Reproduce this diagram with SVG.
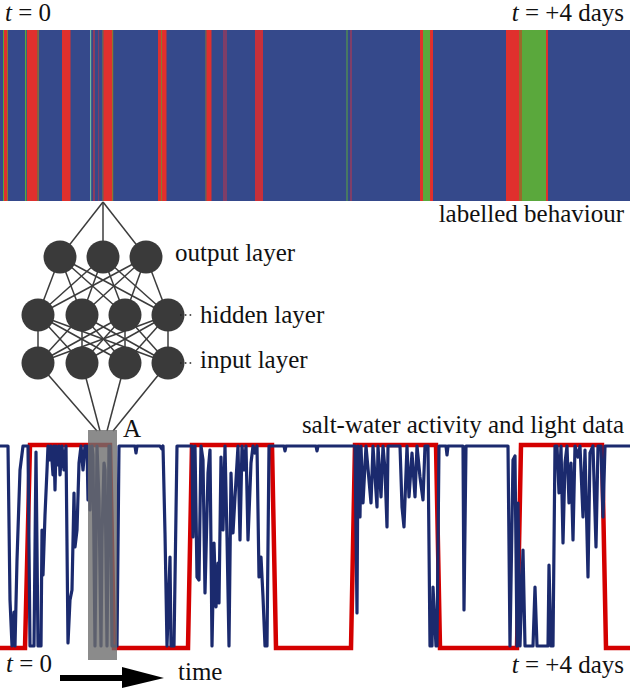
<svg xmlns="http://www.w3.org/2000/svg" width="630" height="689" viewBox="0 0 630 689">
<style>
text{font-family:"Liberation Serif","Times New Roman",serif;font-size:25px;fill:#111}
.it{font-style:italic}
.r{fill:#e0302d}
.g{fill:#5aa83c}
.o{fill:#8a7a30}
.nn{fill:#3a3a3a}
.cn{stroke:#3c3c3c;stroke-width:1.5;fill:none}
.lead{stroke:#222;stroke-width:1.6;stroke-dasharray:1.6 3.2;fill:none}
</style>
<rect width="630" height="689" fill="#fff"/>
<!-- behaviour bar -->
<g id="behaviour-bar">
<rect x="0" y="30" width="630" height="171" fill="#35498b"/>
<rect x="3" y="30" width="1" height="171" class="g"/>
<rect x="4" y="30" width="3" height="171" class="r"/>
<rect x="7" y="30" width="1" height="171" class="o"/>
<rect x="25" y="30" width="1.3" height="171" class="g"/>
<rect x="27" y="30" width="10.5" height="171" class="r"/>
<rect x="37.5" y="30" width="1.3" height="171" class="o"/>
<rect x="62" y="30" width="8.5" height="171" class="r"/>
<rect x="90" y="30" width="1.2" height="171" fill="#6fb8a0"/>
<rect x="93" y="30" width="2" height="171" fill="#b0374f" opacity="0.7"/>
<rect x="98" y="30" width="1.2" height="171" fill="#b0374f" opacity="0.6"/>
<rect x="102.5" y="30" width="1" height="171" class="o"/>
<rect x="103.5" y="30" width="8.5" height="171" class="r"/>
<rect x="112" y="30" width="1.2" height="171" class="o"/>
<rect x="158" y="30" width="8.5" height="171" class="r"/>
<rect x="161" y="30" width="1" height="171" class="o"/>
<rect x="205.5" y="30" width="1" height="171" class="o"/>
<rect x="206.5" y="30" width="5" height="171" class="r"/>
<rect x="223" y="30" width="4" height="171" fill="#a03a5a" opacity="0.7"/>
<rect x="255" y="30" width="8" height="171" fill="#c8303a"/>
<rect x="346.5" y="30" width="1" height="171" class="g"/>
<rect x="350" y="30" width="2" height="171" fill="#a03a5a" opacity="0.7"/>
<rect x="420" y="30" width="3" height="171" class="r"/>
<rect x="423" y="30" width="7" height="171" class="g"/>
<rect x="430" y="30" width="3" height="171" class="r"/>
<rect x="506" y="30" width="13" height="171" class="r"/>
<rect x="519" y="30" width="3" height="171" fill="#9a6a2a"/>
<rect x="522" y="30" width="24" height="171" class="g"/>
<rect x="546" y="30" width="2" height="171" class="r"/>
</g>
<!-- connectors -->
<g id="connectors" class="cn">
<line x1="103" y1="202" x2="60" y2="257"/>
<line x1="103" y1="202" x2="103" y2="257"/>
<line x1="103" y1="202" x2="146" y2="257"/>
<line x1="60" y1="257" x2="38" y2="315"/><line x1="60" y1="257" x2="82" y2="315"/><line x1="60" y1="257" x2="125" y2="315"/><line x1="60" y1="257" x2="168" y2="315"/>
<line x1="103" y1="257" x2="38" y2="315"/><line x1="103" y1="257" x2="82" y2="315"/><line x1="103" y1="257" x2="125" y2="315"/><line x1="103" y1="257" x2="168" y2="315"/>
<line x1="146" y1="257" x2="38" y2="315"/><line x1="146" y1="257" x2="82" y2="315"/><line x1="146" y1="257" x2="125" y2="315"/><line x1="146" y1="257" x2="168" y2="315"/>
<line x1="38" y1="315" x2="38" y2="363"/><line x1="38" y1="315" x2="82" y2="363"/><line x1="38" y1="315" x2="125" y2="363"/><line x1="38" y1="315" x2="168" y2="363"/>
<line x1="82" y1="315" x2="38" y2="363"/><line x1="82" y1="315" x2="82" y2="363"/><line x1="82" y1="315" x2="125" y2="363"/><line x1="82" y1="315" x2="168" y2="363"/>
<line x1="125" y1="315" x2="38" y2="363"/><line x1="125" y1="315" x2="82" y2="363"/><line x1="125" y1="315" x2="125" y2="363"/><line x1="125" y1="315" x2="168" y2="363"/>
<line x1="168" y1="315" x2="38" y2="363"/><line x1="168" y1="315" x2="82" y2="363"/><line x1="168" y1="315" x2="125" y2="363"/><line x1="168" y1="315" x2="168" y2="363"/>
<line x1="38" y1="363" x2="97" y2="431"/>
<line x1="82" y1="363" x2="100" y2="431"/>
<line x1="125" y1="363" x2="107" y2="431"/>
<line x1="168" y1="363" x2="113" y2="431"/>
</g>
<!-- nodes -->
<g id="out1"><circle cx="60" cy="257" r="16.5" class="nn"/></g>
<g id="out2"><circle cx="103" cy="257" r="16.5" class="nn"/></g>
<g id="out3"><circle cx="146" cy="257" r="16.5" class="nn"/></g>
<g id="hid1"><circle cx="38" cy="315" r="16.5" class="nn"/></g>
<g id="hid2"><circle cx="82" cy="315" r="16.5" class="nn"/></g>
<g id="hid3"><circle cx="125" cy="315" r="16.5" class="nn"/></g>
<g id="hid4"><circle cx="168" cy="315" r="16.5" class="nn"/></g>
<g id="in1"><circle cx="38" cy="363" r="16.5" class="nn"/></g>
<g id="in2"><circle cx="82" cy="363" r="16.5" class="nn"/></g>
<g id="in3"><circle cx="125" cy="363" r="16.5" class="nn"/></g>
<g id="in4"><circle cx="168" cy="363" r="16.5" class="nn"/></g>
<g id="leaders">
<line x1="180" y1="315" x2="192" y2="315" class="lead"/>
<line x1="180" y1="363" x2="192" y2="363" class="lead"/>
</g>
<!-- chart -->
<g id="chart">
<polyline fill="none" stroke="#d40000" stroke-width="4.5" stroke-linejoin="miter" points="0,648 25,648 30,445 110,445 114,648 188,648 192,445 272,445 276,648 351,648 355,445 436,445 440,648 517,648 521,445 602,445 606,648 630,648"/>
<polyline fill="none" stroke="#1b2a6e" stroke-width="3.2" stroke-linejoin="round" points="0,446 8,446 10,600 12,646 14,612 15,646 17,560 20,470 23,446 28,446 30,646 34,646 36,452 38,646 41,646 42,530 43,575 45,515 47,470 48,446 50,460 51,446 53,475 54,446 55,490 56,446 57,465 59,446 60,475 62,446 64,470 66,446 68,643 70,600 72,590 74,493 75,547 77,530 79,463 81,446 83,470 85,446 87,446 88,500 89,446 90,510 92,446 93,455 95,646 97,446 99,500 101,646 102,537 104,463 105,470 107,646 109,446 110,446 112,646 115,646 117,646 119,446 135,446 136,453 137,446 160,446 162,449 163,446 165,533 167,646 170,557 171,646 174,646 177,446 190,446 192,446 193,537 195,446 197,577 199,580 201,446 203,460 205,593 208,473 210,450 212,646 214,543 216,607 218,563 219,603 221,457 223,530 225,446 227,537 229,646 231,473 233,533 235,497 238,446 240,540 242,446 244,470 246,446 248,540 251,463 253,446 255,453 257,446 259,577 261,557 263,597 265,646 267,646 269,446 284,446 285,451 286,446 316,446 317,451 318,446 352,446 355,446 357,613 358,446 360,517 361,446 363,503 366,446 371,503 373,446 377,507 378,446 381,497 383,446 385,470 387,527 388,446 400,446 402,507 404,527 407,446 409,497 412,453 415,497 417,446 420,477 423,500 425,446 428,446 430,646 432,646 433,587 436,646 437,646 439,446 446,446 447,455 448,446 463,446 464,610 466,446 508,446 510,646 513,460 515,456 517,646 518,503 520,646 523,550 525,646 533,646 535,587 537,646 548,646 549,565 551,646 553,646 555,446 557,446 559,493 561,446 563,543 565,463 567,446 569,503 571,463 573,540 575,446 578,457 580,446 583,517 585,450 588,577 590,453 593,446 596,547 598,446 601,446 603,517 605,446 630,446"/>
<rect id="window-A" x="88" y="430" width="29" height="230" fill="#6e6e6e" fill-opacity="0.8"/>
</g>
<!-- time arrow -->
<g id="time-arrow">
<line x1="60" y1="678" x2="125" y2="678" stroke="#000" stroke-width="6"/>
<polygon points="122,667 164,678 122,688" fill="#000"/>
</g>
<!-- labels -->
<g id="labels">
<text x="5" y="21"><tspan class="it">t</tspan> = 0</text>
<text x="624" y="21" text-anchor="end"><tspan class="it">t</tspan> = +4 days</text>
<text x="624" y="222" text-anchor="end">labelled behaviour</text>
<text x="175" y="261">output layer</text>
<text x="200" y="323">hidden layer</text>
<text x="200" y="368">input layer</text>
<text x="624" y="433" text-anchor="end">salt-water activity and light data</text>
<text x="123" y="437">A</text>
<text x="6" y="672"><tspan class="it">t</tspan> = 0</text>
<text x="178" y="680">time</text>
<text x="624" y="673" text-anchor="end"><tspan class="it">t</tspan> = +4 days</text>
</g>
</svg>
